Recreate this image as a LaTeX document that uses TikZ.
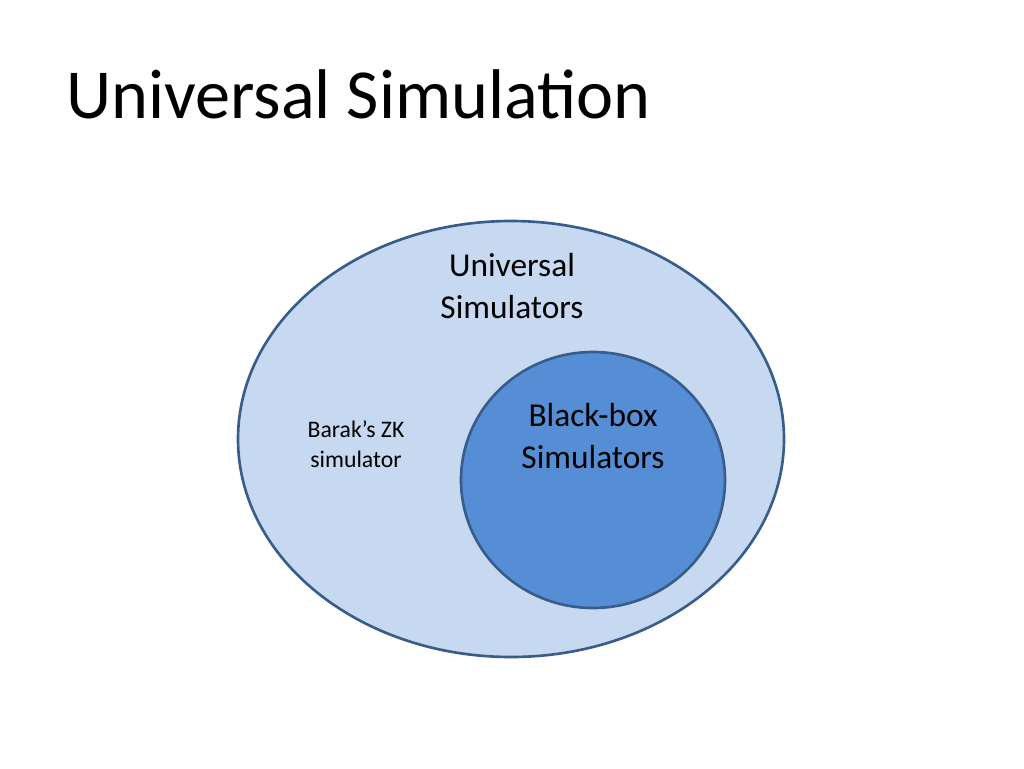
\documentclass[tikz,border=0pt]{standalone}
\usepackage{fontspec}
\setmainfont{Carlito}
\definecolor{outerfill}{RGB}{198,217,240}
\definecolor{innerfill}{RGB}{85,142,213}
\definecolor{rim}{RGB}{56,93,138}
\begin{document}
\begin{tikzpicture}[x=0.02cm,y=-0.02cm,
        blob/.style={ellipse, draw=rim, line width=1.5pt, inner sep=0pt},
        lbl/.style={align=center, font=\fontsize{19}{24}\selectfont}
    ]
        \useasboundingbox (0,0) rectangle (1024,768);
        \node[anchor=base west, font=\fontsize{40}{48}\selectfont] (title) at (60,118) {Universal Simulation};

        \draw[draw=rim, fill=outerfill, line width=1.5pt] (511,439) ellipse [x radius=273, y radius=218];
        \draw[draw=rim, fill=innerfill, line width=1.5pt] (593,480) ellipse [x radius=132, y radius=128];

        \node[lbl] (univ) at (512,286) {Universal\\Simulators};
        \node[lbl] (bbox) at (593,436) {Black-box\\Simulators};
        \node[align=center, font=\fontsize{13.5}{17}\selectfont] (barak) at (356,444) {Barak’s ZK\\simulator};
    \end{tikzpicture}
\end{document}
